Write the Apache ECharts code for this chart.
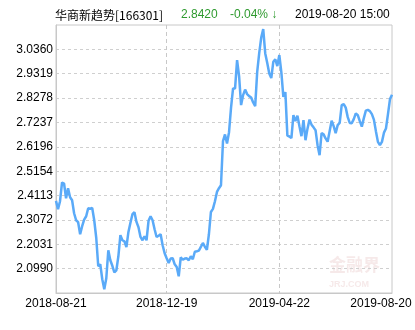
<!DOCTYPE html>
<html><head><meta charset="utf-8">
<script src="https://cdn.jsdelivr.net/npm/echarts@6/dist/echarts.min.js"></script>
<style>html,body{margin:0;padding:0;background:#fff}#c{width:415px;height:330px}</style>
</head><body><div id="c"></div>
<script>
const fundName = '华商新趋势[166301]';
const lastPrice = '2.8420';
const changePct = '-0.04% ↓';
const timestamp = '2019-08-20 15:00';

const navValues = [
2.3884,2.3529,2.3871,2.4671,2.4628,2.3999,2.4427,2.4042,2.3914,2.3358,
2.3058,2.2973,2.2460,2.2802,2.3088,2.3229,2.3572,2.3550,2.3584,2.3058,
2.2310,2.1091,2.1176,2.0535,2.0107,2.0578,2.1775,2.1348,2.1112,2.0834,
2.0920,2.1519,2.2417,2.2203,2.2160,2.1916,2.2558,2.2952,2.3315,2.3401,
2.2986,2.2759,2.2344,2.2203,2.2374,2.2203,2.3037,2.3229,2.3058,2.2673,
2.2344,2.2395,2.2460,2.1989,2.1647,2.1433,2.1232,2.1420,2.1433,2.1176,
2.1061,2.0663,2.1476,2.1369,2.1420,2.1433,2.1348,2.1519,2.1390,2.1711,
2.1733,2.1762,2.1916,2.2088,2.1925,2.1797,2.2460,2.3413,2.3542,2.3871,
2.4269,2.4427,2.4555,2.6437,2.6724,2.6339,2.6822,2.7870,2.8691,2.8691,
2.9902,2.9217,2.7977,2.8405,2.8640,2.8447,2.8362,2.8306,2.8092,2.7934,
2.9401,3.0201,3.0864,3.1227,3.0188,2.9773,2.9333,2.9132,2.9829,2.9932,
2.9645,3.0116,2.9388,2.8332,2.8533,2.6672,2.6638,2.6566,2.7549,2.7293,
2.7528,2.7079,2.6651,2.7335,2.6480,2.6972,2.7357,2.7143,2.7027,2.6908,
2.6266,2.5838,2.6779,2.6728,2.6553,2.6416,2.6865,2.7314,2.7079,2.6779,
2.7122,2.7216,2.7977,2.8020,2.7870,2.7464,2.7216,2.7207,2.7378,2.7622,
2.7549,2.7293,2.7057,2.7421,2.7742,2.7772,2.7720,2.7592,2.7357,2.6865,
2.6407,2.6266,2.6407,2.6801,2.6980,2.7592,2.8234,2.8420
];

const yTickValues = [2.0990, 2.2031, 2.3072, 2.4113, 2.5154, 2.6196, 2.7237, 2.8278, 2.9319, 3.0360];
const yMin = 1.9949, yMax = 3.1401;
const xTickLabels = ['2018-08-21', '2018-12-19', '2019-04-22', '2019-08-20'];
const xTickIndex = [0, 55, 111, 167];
const categories = navValues.map((_, i) => i);

const chart = echarts.init(document.getElementById('c'), null, {renderer: 'canvas'});
const green = '#2f9a2f';
const labelFont = 'Liberation Sans';
chart.setOption({
  animation: false,
  backgroundColor: '#fff',
  grid: {left: 56, right: 23, top: 25, bottom: 37, show: true, borderColor: '#c8c8c8', borderWidth: 1},
  xAxis: {
    type: 'category', data: categories, boundaryGap: false,
    axisLine: {show: true, lineStyle: {color: '#c8c8c8'}},
    axisTick: {show: false},
    axisLabel: {
      interval: (i) => xTickIndex.includes(i),
      margin: 5, color: '#000', fontSize: 12, fontFamily: labelFont,
      formatter: (v, i) => {
        const k = xTickIndex.indexOf(Number(v));
        if (k < 0) return '';
        if (k === xTickLabels.length - 1) return '{last|' + xTickLabels[k] + '}';
        return xTickLabels[k];
      },
      rich: {last: {padding: [0, 22, 0, 0], color: '#000', fontSize: 12, fontFamily: labelFont}}
    },
    splitLine: {show: true, interval: (i) => i === xTickIndex[1] || i === xTickIndex[2],
      lineStyle: {color: '#c8c8c8', type: [4, 3], width: 1}}
  },
  yAxis: {
    type: 'value', min: yMin, max: yMax, scale: true,
    axisLine: {show: true, lineStyle: {color: '#c8c8c8'}},
    axisTick: {show: false, customValues: yTickValues},
    axisLabel: {customValues: yTickValues, margin: 3, color: '#000', fontSize: 12, fontFamily: labelFont,
      formatter: (v) => v.toFixed(4)},
    splitLine: {show: true, lineStyle: {color: '#cfcfcf', type: [3, 3], width: 1}}
  },
  series: [{
    type: 'line', data: navValues, showSymbol: false, smooth: false,
    lineStyle: {color: '#5aaaf8', width: 2.5},
    itemStyle: {color: '#5aaaf8'}
  }],
  graphic: [
    {type: 'text', left: 55, top: 9, style: {text: fundName, font: '12px "Noto Sans CJK SC"', fill: '#000'}},
    {type: 'text', left: 181, top: 9, style: {text: lastPrice, font: '12px "Liberation Sans"', fill: green}},
    {type: 'text', left: 230, top: 9, style: {text: changePct, font: '12px "Liberation Sans"', fill: green}},
    {type: 'text', left: 295, top: 9, style: {text: timestamp, font: '12px "Liberation Sans"', fill: '#000'}},
    {type: 'text', left: 329, top: 256, z: 0, style: {text: '金融界', font: 'bold 17px "Noto Sans CJK SC"', fill: 'rgba(200,120,120,0.16)'}},
    {type: 'text', left: 329, top: 280, z: 0, style: {text: 'JRJ.COM', font: 'bold 9px "Liberation Sans"', fill: 'rgba(200,120,120,0.16)'}}
  ]
});
</script></body></html>
